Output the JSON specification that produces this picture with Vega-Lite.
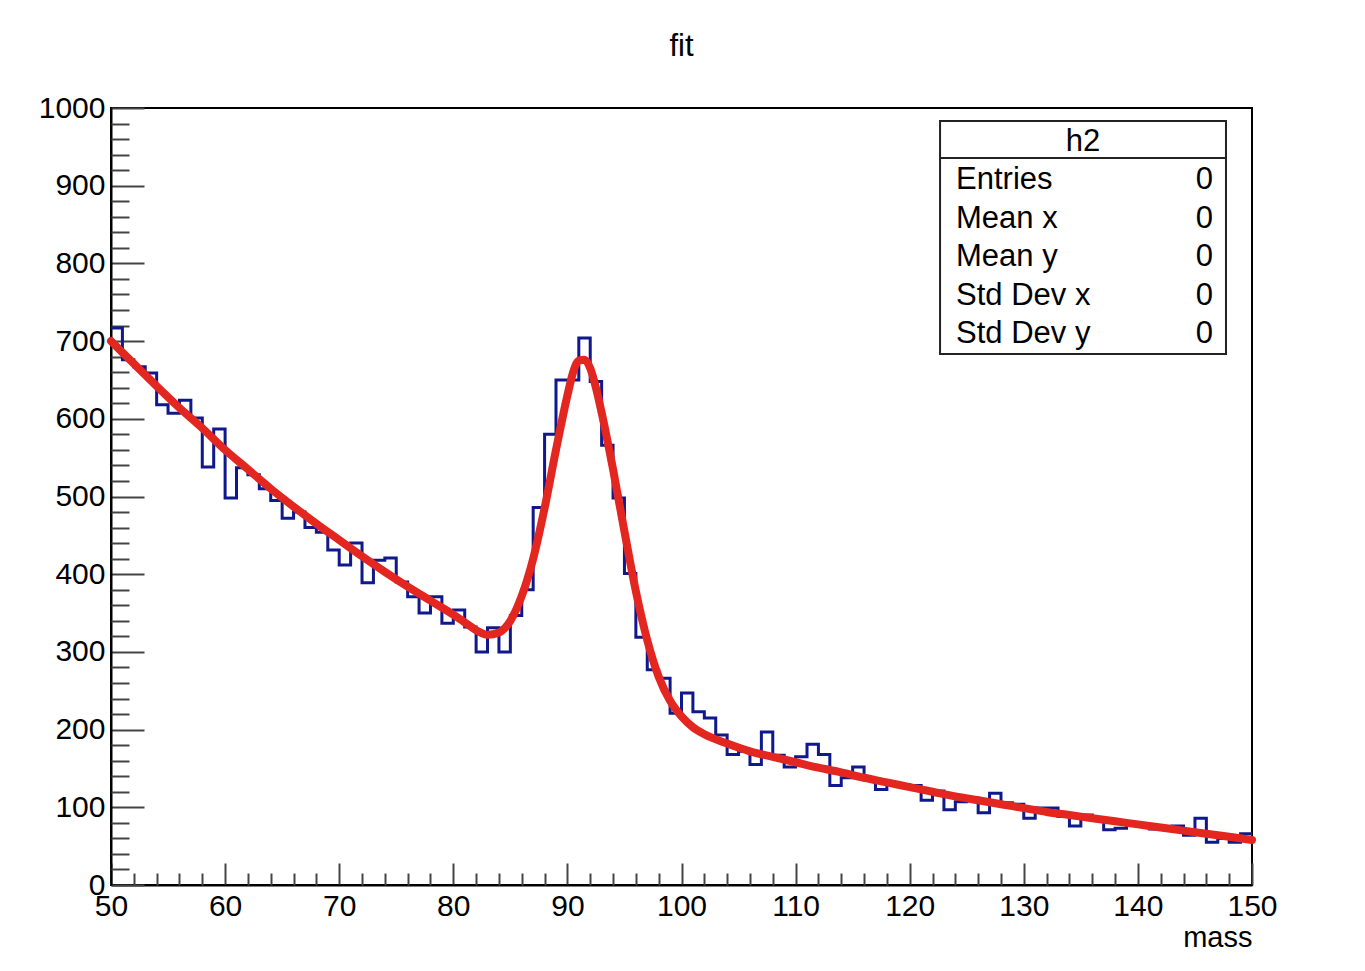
{
  "$schema": "https://vega.github.io/schema/vega-lite/v6.json",
  "width": 1141,
  "height": 777,
  "autosize": {"type": "none"},
  "padding": {"left": 111, "top": 108, "right": 113, "bottom": 86},
  "background": "white",
  "config": {
    "font": "Liberation Sans",
    "view": {"stroke": "#000", "strokeWidth": 2}
  },
  "title": {"text": "fit", "fontSize": 31, "font": "Liberation Sans", "fontWeight": "normal", "color": "#000", "anchor": "middle", "baseline": "alphabetic", "offset": 6},
  "datasets": {
    "hist": [
      {"lo":50,"hi":51,"n":717},{"lo":51,"hi":52,"n":676},{"lo":52,"hi":53,"n":667},{"lo":53,"hi":54,"n":659},{"lo":54,"hi":55,"n":618},
      {"lo":55,"hi":56,"n":607},{"lo":56,"hi":57,"n":624},{"lo":57,"hi":58,"n":601},{"lo":58,"hi":59,"n":538},{"lo":59,"hi":60,"n":587},
      {"lo":60,"hi":61,"n":498},{"lo":61,"hi":62,"n":537},{"lo":62,"hi":63,"n":528},{"lo":63,"hi":64,"n":510},{"lo":64,"hi":65,"n":495},
      {"lo":65,"hi":66,"n":472},{"lo":66,"hi":67,"n":480},{"lo":67,"hi":68,"n":460},{"lo":68,"hi":69,"n":454},{"lo":69,"hi":70,"n":431},
      {"lo":70,"hi":71,"n":412},{"lo":71,"hi":72,"n":440},{"lo":72,"hi":73,"n":389},{"lo":73,"hi":74,"n":418},{"lo":74,"hi":75,"n":421},
      {"lo":75,"hi":76,"n":390},{"lo":76,"hi":77,"n":371},{"lo":77,"hi":78,"n":350},{"lo":78,"hi":79,"n":371},{"lo":79,"hi":80,"n":337},
      {"lo":80,"hi":81,"n":354},{"lo":81,"hi":82,"n":332},{"lo":82,"hi":83,"n":300},{"lo":83,"hi":84,"n":331},{"lo":84,"hi":85,"n":300},
      {"lo":85,"hi":86,"n":347},{"lo":86,"hi":87,"n":380},{"lo":87,"hi":88,"n":486},{"lo":88,"hi":89,"n":580},{"lo":89,"hi":90,"n":650},
      {"lo":90,"hi":91,"n":650},{"lo":91,"hi":92,"n":704},{"lo":92,"hi":93,"n":648},{"lo":93,"hi":94,"n":566},{"lo":94,"hi":95,"n":498},
      {"lo":95,"hi":96,"n":401},{"lo":96,"hi":97,"n":319},{"lo":97,"hi":98,"n":277},{"lo":98,"hi":99,"n":266},{"lo":99,"hi":100,"n":221},
      {"lo":100,"hi":101,"n":247},{"lo":101,"hi":102,"n":223},{"lo":102,"hi":103,"n":215},{"lo":103,"hi":104,"n":193},{"lo":104,"hi":105,"n":168},
      {"lo":105,"hi":106,"n":172},{"lo":106,"hi":107,"n":155},{"lo":107,"hi":108,"n":197},{"lo":108,"hi":109,"n":167},{"lo":109,"hi":110,"n":152},
      {"lo":110,"hi":111,"n":165},{"lo":111,"hi":112,"n":181},{"lo":112,"hi":113,"n":168},{"lo":113,"hi":114,"n":128},{"lo":114,"hi":115,"n":138},
      {"lo":115,"hi":116,"n":152},{"lo":116,"hi":117,"n":135},{"lo":117,"hi":118,"n":123},{"lo":118,"hi":119,"n":131},{"lo":119,"hi":120,"n":129},
      {"lo":120,"hi":121,"n":128},{"lo":121,"hi":122,"n":109},{"lo":122,"hi":123,"n":121},{"lo":123,"hi":124,"n":97},{"lo":124,"hi":125,"n":107},
      {"lo":125,"hi":126,"n":112},{"lo":126,"hi":127,"n":93},{"lo":127,"hi":128,"n":118},{"lo":128,"hi":129,"n":106},{"lo":129,"hi":130,"n":104},
      {"lo":130,"hi":131,"n":86},{"lo":131,"hi":132,"n":99},{"lo":132,"hi":133,"n":99},{"lo":133,"hi":134,"n":88},{"lo":134,"hi":135,"n":76},
      {"lo":135,"hi":136,"n":90},{"lo":136,"hi":137,"n":84},{"lo":137,"hi":138,"n":71},{"lo":138,"hi":139,"n":73},{"lo":139,"hi":140,"n":77},
      {"lo":140,"hi":141,"n":77},{"lo":141,"hi":142,"n":72},{"lo":142,"hi":143,"n":74},{"lo":143,"hi":144,"n":76},{"lo":144,"hi":145,"n":64},
      {"lo":145,"hi":146,"n":86},{"lo":146,"hi":147,"n":55},{"lo":147,"hi":148,"n":60},{"lo":148,"hi":149,"n":55},{"lo":149,"hi":150,"n":66}
    ],
    "fit": [
      {"mass":50,"f":700},{"mass":52,"f":671},{"mass":54,"f":642},{"mass":56,"f":614},{"mass":58,"f":588},
      {"mass":60,"f":560},{"mass":62,"f":535},{"mass":64,"f":510},{"mass":66,"f":487},{"mass":68,"f":465},
      {"mass":70,"f":444},{"mass":72,"f":423},{"mass":74,"f":403},{"mass":76,"f":384},{"mass":78,"f":366},
      {"mass":80,"f":348},{"mass":81,"f":338},{"mass":82,"f":328},{"mass":83,"f":322},{"mass":84,"f":325},
      {"mass":85,"f":340},{"mass":86,"f":372},{"mass":87,"f":420},{"mass":88,"f":485},{"mass":89,"f":560},
      {"mass":90,"f":630},{"mass":90.5,"f":660},{"mass":91,"f":675},{"mass":91.5,"f":676},{"mass":92,"f":665},
      {"mass":92.5,"f":640},{"mass":93,"f":608},{"mass":94,"f":535},{"mass":95,"f":455},{"mass":96,"f":378},
      {"mass":97,"f":315},{"mass":98,"f":268},{"mass":99,"f":237},{"mass":100,"f":217},{"mass":101,"f":203},
      {"mass":102,"f":194},{"mass":104,"f":182},{"mass":106,"f":172},{"mass":108,"f":165},{"mass":110,"f":158},
      {"mass":112,"f":151},{"mass":114,"f":145},{"mass":116,"f":138},{"mass":118,"f":132},{"mass":120,"f":126},
      {"mass":122,"f":120},{"mass":124,"f":114},{"mass":126,"f":109},{"mass":128,"f":104},{"mass":130,"f":99},
      {"mass":132,"f":94},{"mass":134,"f":90},{"mass":136,"f":86},{"mass":138,"f":82},{"mass":140,"f":78},
      {"mass":142,"f":74},{"mass":144,"f":70},{"mass":146,"f":66},{"mass":148,"f":62},{"mass":150,"f":58}
    ],
    "stats": [
      {"title": "h2", "labels": ["Entries", "Mean x", "Mean y", "Std Dev x", "Std Dev y"], "values": ["0", "0", "0", "0", "0"]}
    ]
  },
  "layer": [
    {
      "data": {"name": "hist"},
      "transform": [
        {"fold": ["lo", "hi"], "as": ["side", "edge"]},
        {"calculate": "datum.lo * 2 + (datum.side === 'hi' ? 1 : 0)", "as": "ord"}
      ],
      "mark": {"type": "line", "color": "#0f188c", "strokeWidth": 3, "interpolate": "linear"},
      "encoding": {
        "x": {"field": "edge", "type": "quantitative",
          "scale": {"domain": [50, 150], "nice": false, "zero": false},
          "axis": {"orient": "bottom", "values": [50,60,70,80,90,100,110,120,130,140,150], "format": "d", "tickSize": -22, "tickWidth": 2, "tickColor": "#444",
            "domainColor": "#000", "domainWidth": 2, "labelFontSize": 30, "labelColor": "#000", "labelPadding": 28,
            "labelFlush": false, "labelOverlap": false, "labelBound": false, "grid": false,
            "title": "mass", "titleAnchor": "end", "titleFontSize": 29, "titleFontWeight": "normal", "titleColor": "#000", "titlePadding": 2}},
        "y": {"field": "n", "type": "quantitative",
          "scale": {"domain": [0, 1000], "nice": false},
          "axis": {"orient": "left", "values": [0,100,200,300,400,500,600,700,800,900,1000], "format": "d", "tickSize": -33, "tickWidth": 2, "tickColor": "#444",
            "domainColor": "#000", "domainWidth": 2, "labelFontSize": 30, "labelColor": "#000", "labelPadding": 39,
            "labelFlush": false, "labelOverlap": false, "labelBound": false, "grid": false, "title": null}},
        "order": {"field": "ord", "type": "quantitative"}
      }
    },
    {
      "data": {"name": "fit"},
      "mark": {"type": "line", "color": "#e3261f", "strokeWidth": 8, "interpolate": "monotone", "strokeCap": "round"},
      "encoding": {
        "x": {"field": "mass", "type": "quantitative",
          "axis": {"orient": "bottom", "values": [52,54,56,58,62,64,66,68,72,74,76,78,82,84,86,88,92,94,96,98,102,104,106,108,112,114,116,118,122,124,126,128,132,134,136,138,142,144,146,148],
            "tickSize": -12, "tickWidth": 2, "tickColor": "#444", "labels": false, "domain": false, "grid": false, "title": null}},
        "y": {"field": "f", "type": "quantitative",
          "axis": {"orient": "left", "values": [20,40,60,80,120,140,160,180,220,240,260,280,320,340,360,380,420,440,460,480,520,540,560,580,620,640,660,680,720,740,760,780,820,840,860,880,920,940,960,980],
            "tickSize": -18, "tickWidth": 2, "tickColor": "#444", "labels": false, "domain": false, "grid": false, "title": null}}
      }
    },
    {
      "data": {"name": "stats"},
      "mark": {"type": "rect", "fill": "white", "stroke": "#222", "strokeWidth": 2},
      "encoding": {
        "x": {"datum": 122.66, "type": "quantitative", "axis": null},
        "x2": {"datum": 147.72},
        "y": {"datum": 983.3, "type": "quantitative", "axis": null},
        "y2": {"datum": 683.4}
      }
    },
    {
      "data": {"name": "stats"},
      "mark": {"type": "rule", "stroke": "#222", "strokeWidth": 2},
      "encoding": {
        "x": {"datum": 122.66, "type": "quantitative", "axis": null},
        "x2": {"datum": 147.72},
        "y": {"datum": 935.6, "type": "quantitative", "axis": null}
      }
    },
    {
      "data": {"name": "stats"},
      "mark": {"type": "text", "fontSize": 31, "align": "center", "baseline": "middle", "color": "#000"},
      "encoding": {
        "x": {"datum": 135.19, "type": "quantitative", "axis": null},
        "y": {"datum": 956.2, "type": "quantitative", "axis": null},
        "text": {"field": "title", "type": "nominal"}
      }
    },
    {
      "data": {"name": "stats"},
      "mark": {"type": "text", "fontSize": 31, "align": "left", "baseline": "middle", "lineHeight": 38.5, "color": "#000"},
      "encoding": {
        "x": {"datum": 124.06, "type": "quantitative", "axis": null},
        "y": {"datum": 907.3, "type": "quantitative", "axis": null},
        "text": {"field": "labels", "type": "nominal"}
      }
    },
    {
      "data": {"name": "stats"},
      "mark": {"type": "text", "fontSize": 31, "align": "right", "baseline": "middle", "lineHeight": 38.5, "color": "#000"},
      "encoding": {
        "x": {"datum": 146.58, "type": "quantitative", "axis": null},
        "y": {"datum": 907.3, "type": "quantitative", "axis": null},
        "text": {"field": "values", "type": "nominal"}
      }
    }
  ],
  "resolve": {"axis": {"x": "independent", "y": "independent"}}
}
